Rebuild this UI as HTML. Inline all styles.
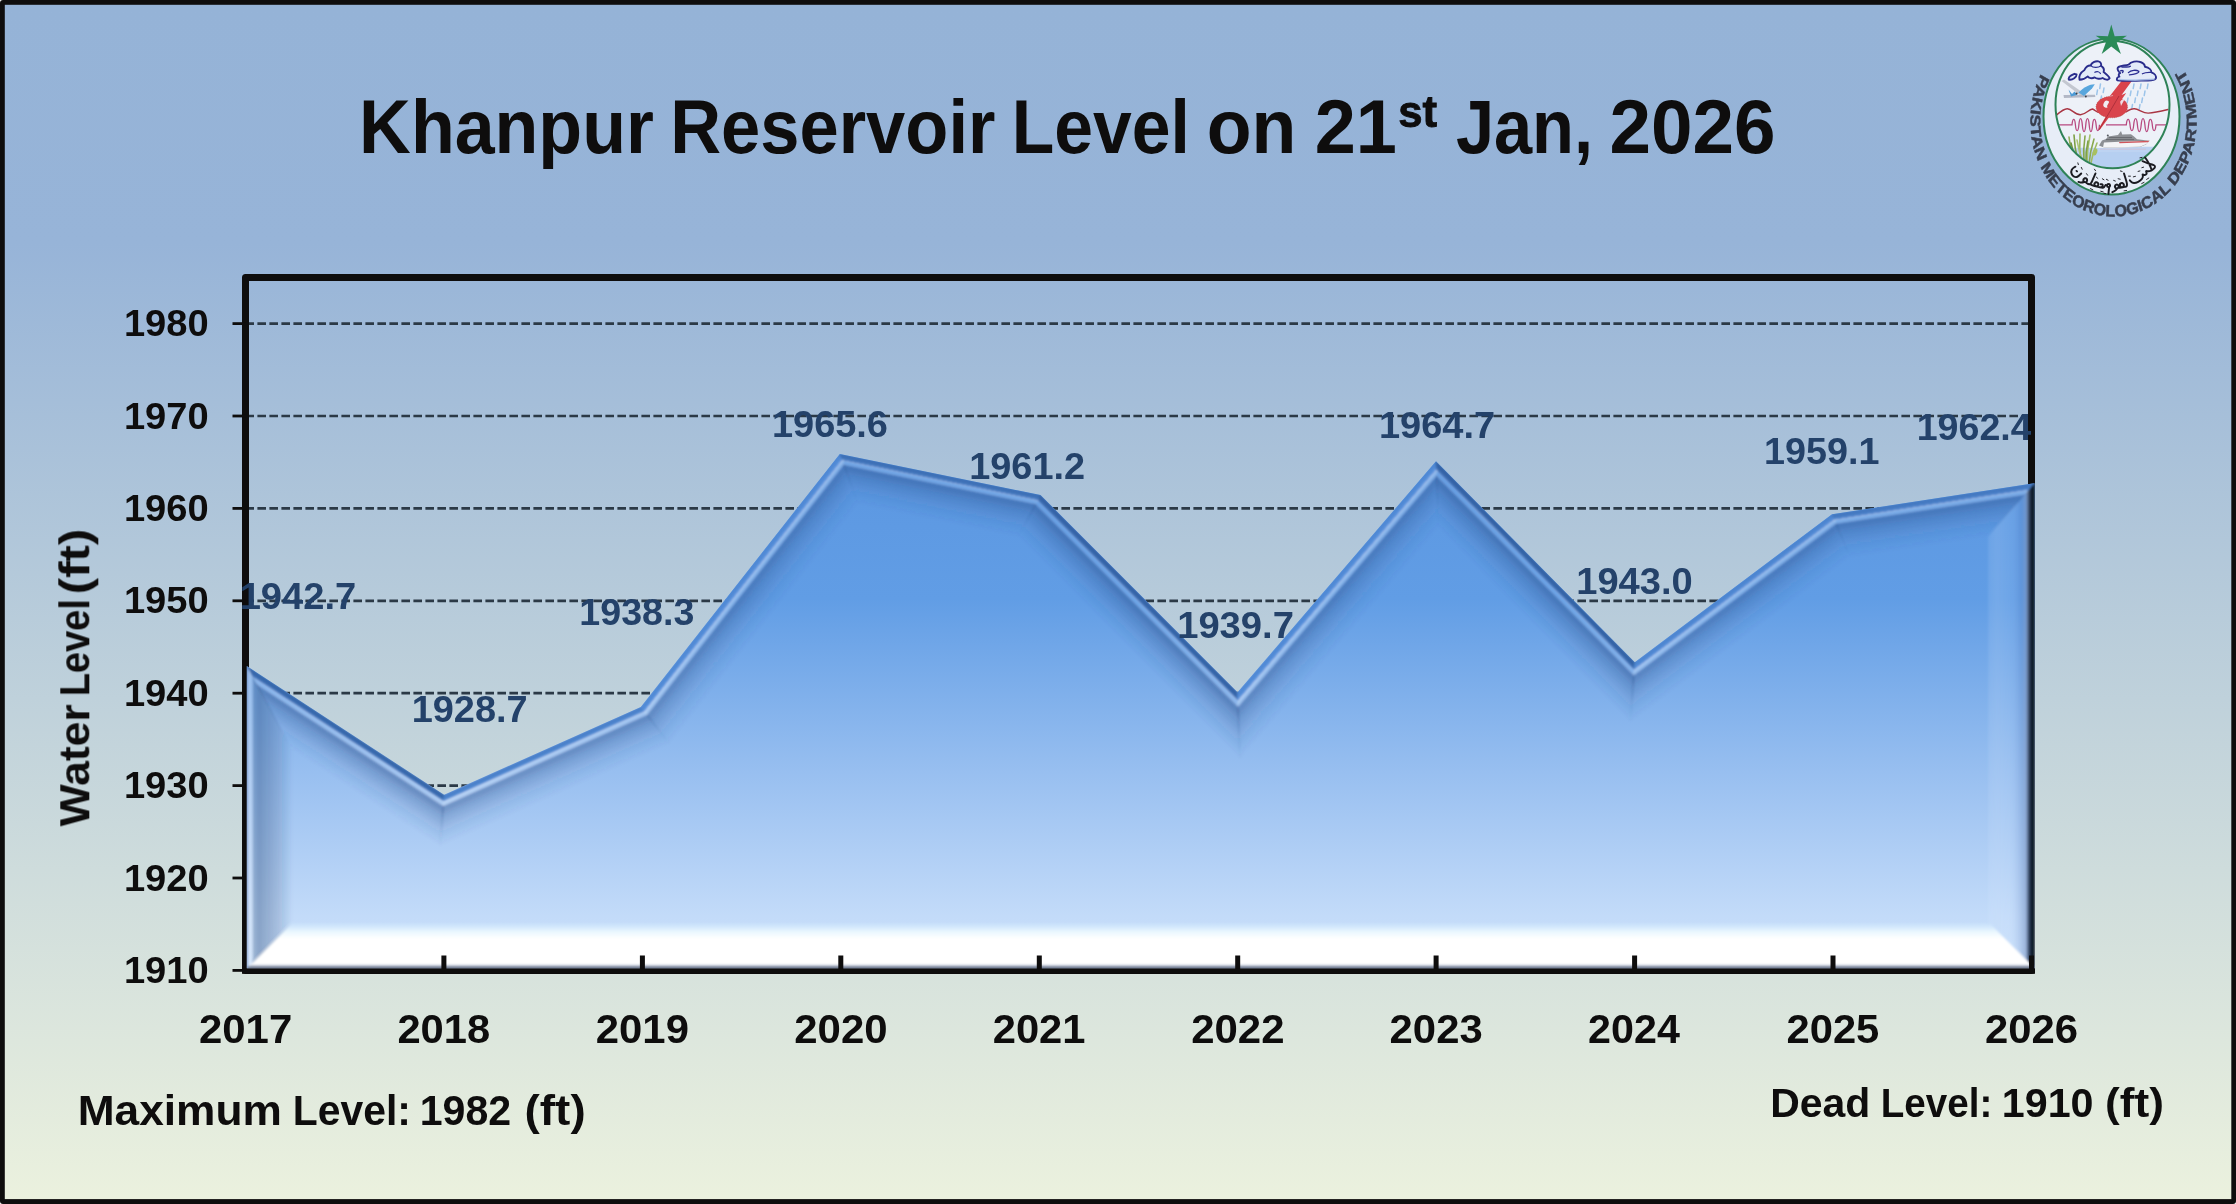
<!DOCTYPE html>
<html><head><meta charset="utf-8"><title>Khanpur Reservoir Level</title>
<style>html,body{margin:0;padding:0;background:#ffffff;width:2236px;height:1204px;overflow:hidden}svg{display:block}text{font-family:"Liberation Sans",sans-serif;font-weight:bold}</style>
</head><body>
<svg width="2236" height="1204" viewBox="0 0 2236 1204">
<defs>
<linearGradient id="bg" x1="0" y1="0" x2="0" y2="1"><stop offset="0" stop-color="#95b3d7"/><stop offset="0.2" stop-color="#97b4d8"/><stop offset="1" stop-color="#ebf1de"/></linearGradient>
<linearGradient id="af" gradientUnits="userSpaceOnUse" x1="0" y1="455" x2="0" y2="968"><stop offset="0" stop-color="#5b97e1"/><stop offset="0.28" stop-color="#619de5"/><stop offset="0.62" stop-color="#98bff0"/><stop offset="0.9" stop-color="#c3dbf9"/><stop offset="1" stop-color="#cbe1fb"/></linearGradient>
<clipPath id="ac"><polygon points="246.80,666.12 444.16,794.77 640.80,706.88 839.81,453.90 1040.50,495.01 1237.56,692.30 1436.01,461.29 1634.82,662.17 1832.02,514.34 2034.60,483.21 2034.60,968.60 246.80,968.60"/></clipPath>
<linearGradient id="f0" gradientUnits="userSpaceOnUse" x1="345.48" y1="730.44" x2="320.36" y2="768.98"><stop offset="0.0000" stop-color="#2f5ea0" stop-opacity="1.0"/><stop offset="0.1174" stop-color="#4174ba" stop-opacity="1.0"/><stop offset="0.1304" stop-color="#ffffff" stop-opacity="0.06792452619374156"/><stop offset="0.1565" stop-color="#ffffff" stop-opacity="0.12349913853407557"/><stop offset="0.1913" stop-color="#ffffff" stop-opacity="0.04322469848692645"/><stop offset="0.2174" stop-color="#274a86" stop-opacity="0.33888293364364563"/><stop offset="0.2717" stop-color="#274a86" stop-opacity="0.45184391152486086"/><stop offset="0.4130" stop-color="#274a86" stop-opacity="0.28014322514541373"/><stop offset="0.6739" stop-color="#274a86" stop-opacity="0.1084425387659666"/><stop offset="1.0000" stop-color="#274a86" stop-opacity="0"/></linearGradient>
<linearGradient id="f1" gradientUnits="userSpaceOnUse" x1="542.48" y1="750.83" x2="561.25" y2="792.82"><stop offset="0.0000" stop-color="#4378c3" stop-opacity="1.0"/><stop offset="0.1174" stop-color="#538cd4" stop-opacity="1.0"/><stop offset="0.1304" stop-color="#ffffff" stop-opacity="0.1798826591361526"/><stop offset="0.1565" stop-color="#ffffff" stop-opacity="0.32705938024755016"/><stop offset="0.1913" stop-color="#ffffff" stop-opacity="0.11447078308664255"/><stop offset="0.2174" stop-color="#274a86" stop-opacity="0.31025727465268826"/><stop offset="0.2717" stop-color="#274a86" stop-opacity="0.4136763662035844"/><stop offset="0.4130" stop-color="#274a86" stop-opacity="0.25647934704622233"/><stop offset="0.6739" stop-color="#274a86" stop-opacity="0.09928232788886025"/><stop offset="1.0000" stop-color="#274a86" stop-opacity="0"/></linearGradient>
<linearGradient id="f2" gradientUnits="userSpaceOnUse" x1="740.30" y1="580.39" x2="776.46" y2="608.83"><stop offset="0.0000" stop-color="#4a82cf" stop-opacity="1.0"/><stop offset="0.1174" stop-color="#5a94de" stop-opacity="1.0"/><stop offset="0.1304" stop-color="#ffffff" stop-opacity="0.22000000000000003"/><stop offset="0.1565" stop-color="#ffffff" stop-opacity="0.4"/><stop offset="0.1913" stop-color="#ffffff" stop-opacity="0.13999999999999999"/><stop offset="0.2174" stop-color="#274a86" stop-opacity="0.30000000000000004"/><stop offset="0.2717" stop-color="#274a86" stop-opacity="0.4"/><stop offset="0.4130" stop-color="#274a86" stop-opacity="0.248"/><stop offset="0.6739" stop-color="#274a86" stop-opacity="0.096"/><stop offset="1.0000" stop-color="#274a86" stop-opacity="0"/></linearGradient>
<linearGradient id="f3" gradientUnits="userSpaceOnUse" x1="940.15" y1="474.46" x2="930.92" y2="519.52"><stop offset="0.0000" stop-color="#3667ad" stop-opacity="1.0"/><stop offset="0.1174" stop-color="#487dc3" stop-opacity="1.0"/><stop offset="0.1304" stop-color="#ffffff" stop-opacity="0.108450147820165"/><stop offset="0.1565" stop-color="#ffffff" stop-opacity="0.19718208694575454"/><stop offset="0.1913" stop-color="#ffffff" stop-opacity="0.06901373043101408"/><stop offset="0.2174" stop-color="#274a86" stop-opacity="0.3285212690232533"/><stop offset="0.2717" stop-color="#274a86" stop-opacity="0.43802835869767104"/><stop offset="0.4130" stop-color="#274a86" stop-opacity="0.271577582392556"/><stop offset="0.6739" stop-color="#274a86" stop-opacity="0.10512680608744104"/><stop offset="1.0000" stop-color="#274a86" stop-opacity="0"/></linearGradient>
<linearGradient id="f4" gradientUnits="userSpaceOnUse" x1="1139.03" y1="593.65" x2="1106.48" y2="626.16"><stop offset="0.0000" stop-color="#2c599b" stop-opacity="1.0"/><stop offset="0.1174" stop-color="#3e70b5" stop-opacity="1.0"/><stop offset="0.1304" stop-color="#ffffff" stop-opacity="0.04898685187522218"/><stop offset="0.1565" stop-color="#ffffff" stop-opacity="0.08906700340949486"/><stop offset="0.1913" stop-color="#ffffff" stop-opacity="0.0311734511933232"/><stop offset="0.2174" stop-color="#274a86" stop-opacity="0.3437249526455398"/><stop offset="0.2717" stop-color="#274a86" stop-opacity="0.45829993686071974"/><stop offset="0.4130" stop-color="#274a86" stop-opacity="0.28414596085364624"/><stop offset="0.6739" stop-color="#274a86" stop-opacity="0.10999198484657273"/><stop offset="1.0000" stop-color="#274a86" stop-opacity="0"/></linearGradient>
<linearGradient id="f5" gradientUnits="userSpaceOnUse" x1="1336.79" y1="576.79" x2="1371.68" y2="606.77"><stop offset="0.0000" stop-color="#4a82cf" stop-opacity="1.0"/><stop offset="0.1174" stop-color="#5a94de" stop-opacity="1.0"/><stop offset="0.1304" stop-color="#ffffff" stop-opacity="0.22000000000000003"/><stop offset="0.1565" stop-color="#ffffff" stop-opacity="0.4"/><stop offset="0.1913" stop-color="#ffffff" stop-opacity="0.13999999999999999"/><stop offset="0.2174" stop-color="#274a86" stop-opacity="0.30000000000000004"/><stop offset="0.2717" stop-color="#274a86" stop-opacity="0.4"/><stop offset="0.4130" stop-color="#274a86" stop-opacity="0.248"/><stop offset="0.6739" stop-color="#274a86" stop-opacity="0.096"/><stop offset="1.0000" stop-color="#274a86" stop-opacity="0"/></linearGradient>
<linearGradient id="f6" gradientUnits="userSpaceOnUse" x1="1535.42" y1="561.73" x2="1502.72" y2="594.09"><stop offset="0.0000" stop-color="#2c599a" stop-opacity="1.0"/><stop offset="0.1174" stop-color="#3e70b5" stop-opacity="1.0"/><stop offset="0.1304" stop-color="#ffffff" stop-opacity="0.048603853273017736"/><stop offset="0.1565" stop-color="#ffffff" stop-opacity="0.0883706423145777"/><stop offset="0.1913" stop-color="#ffffff" stop-opacity="0.030929724810102192"/><stop offset="0.2174" stop-color="#274a86" stop-opacity="0.34382287842451253"/><stop offset="0.2717" stop-color="#274a86" stop-opacity="0.4584305045660167"/><stop offset="0.4130" stop-color="#274a86" stop-opacity="0.2842269128309303"/><stop offset="0.6739" stop-color="#274a86" stop-opacity="0.110023321095844"/><stop offset="1.0000" stop-color="#274a86" stop-opacity="0"/></linearGradient>
<linearGradient id="f7" gradientUnits="userSpaceOnUse" x1="1733.42" y1="588.26" x2="1761.01" y2="625.06"><stop offset="0.0000" stop-color="#477eca" stop-opacity="1.0"/><stop offset="0.1174" stop-color="#5790da" stop-opacity="1.0"/><stop offset="0.1304" stop-color="#ffffff" stop-opacity="0.20238001472694467"/><stop offset="0.1565" stop-color="#ffffff" stop-opacity="0.36796366313989937"/><stop offset="0.1913" stop-color="#ffffff" stop-opacity="0.12878728209896478"/><stop offset="0.2174" stop-color="#274a86" stop-opacity="0.3045051098709517"/><stop offset="0.2717" stop-color="#274a86" stop-opacity="0.4060068131612689"/><stop offset="0.4130" stop-color="#274a86" stop-opacity="0.25172422415998674"/><stop offset="0.6739" stop-color="#274a86" stop-opacity="0.09744163515870453"/><stop offset="1.0000" stop-color="#274a86" stop-opacity="0"/></linearGradient>
<linearGradient id="f8" gradientUnits="userSpaceOnUse" x1="1933.31" y1="498.78" x2="1940.30" y2="544.24"><stop offset="0.0000" stop-color="#3e71b9" stop-opacity="1.0"/><stop offset="0.1174" stop-color="#4e85cd" stop-opacity="1.0"/><stop offset="0.1304" stop-color="#ffffff" stop-opacity="0.14982012068115358"/><stop offset="0.1565" stop-color="#ffffff" stop-opacity="0.2724002194202792"/><stop offset="0.1913" stop-color="#ffffff" stop-opacity="0.09534007679709772"/><stop offset="0.2174" stop-color="#274a86" stop-opacity="0.31794371914402325"/><stop offset="0.2717" stop-color="#274a86" stop-opacity="0.4239249588586977"/><stop offset="0.4130" stop-color="#274a86" stop-opacity="0.2628334744923926"/><stop offset="0.6739" stop-color="#274a86" stop-opacity="0.10174199012608744"/><stop offset="1.0000" stop-color="#274a86" stop-opacity="0"/></linearGradient>
<linearGradient id="f9" gradientUnits="userSpaceOnUse" x1="2034.60" y1="725.91" x2="1988.60" y2="725.91"><stop offset="0.0000" stop-color="#0b0d12" stop-opacity="1.0"/><stop offset="0.0522" stop-color="#111a29" stop-opacity="1.0"/><stop offset="0.1087" stop-color="#23344e" stop-opacity="1.0"/><stop offset="0.1522" stop-color="#5d7194" stop-opacity="0.95"/><stop offset="0.1957" stop-color="#7f98c4" stop-opacity="0.55"/><stop offset="0.3043" stop-color="#5c7db8" stop-opacity="0.2"/><stop offset="0.5217" stop-color="#dcebff" stop-opacity="0.1"/><stop offset="0.8261" stop-color="#dcebff" stop-opacity="0.16"/><stop offset="1.0000" stop-color="#dcebff" stop-opacity="0.1"/></linearGradient>
<linearGradient id="f10" gradientUnits="userSpaceOnUse" x1="1140.70" y1="968.60" x2="1140.70" y2="922.60"><stop offset="0.0000" stop-color="#1c2332" stop-opacity="1.0"/><stop offset="0.0261" stop-color="#56627a" stop-opacity="1.0"/><stop offset="0.0609" stop-color="#b4bfd3" stop-opacity="1.0"/><stop offset="0.0957" stop-color="#ffffff" stop-opacity="1.0"/><stop offset="0.6522" stop-color="#ffffff" stop-opacity="1.0"/><stop offset="0.8043" stop-color="#eefaff" stop-opacity="0.9"/><stop offset="0.9348" stop-color="#dcf1ff" stop-opacity="0.45"/><stop offset="1.0000" stop-color="#dcf1ff" stop-opacity="0.0"/></linearGradient>
<linearGradient id="f11" gradientUnits="userSpaceOnUse" x1="246.80" y1="817.36" x2="292.80" y2="817.36"><stop offset="0.0000" stop-color="#4f75ad" stop-opacity="1.0"/><stop offset="0.0196" stop-color="#6f98d4" stop-opacity="1.0"/><stop offset="0.0326" stop-color="#ffffff" stop-opacity="0.3"/><stop offset="0.0978" stop-color="#ffffff" stop-opacity="0.22"/><stop offset="0.1413" stop-color="#23406e" stop-opacity="0.26"/><stop offset="0.2609" stop-color="#23406e" stop-opacity="0.36"/><stop offset="0.6522" stop-color="#23406e" stop-opacity="0.2"/><stop offset="1.0000" stop-color="#23406e" stop-opacity="0"/></linearGradient>
<filter id="soft" filterUnits="userSpaceOnUse" x="200" y="400" width="1900" height="620"><feGaussianBlur stdDeviation="0.8"/></filter>
</defs>
<rect x="0" y="0" width="2236" height="1204" rx="3" ry="3" fill="#0e0d0d"/>
<rect x="4.8" y="4.8" width="2226.5" height="1194.3" fill="url(#bg)"/>
<line x1="249" y1="878.0" x2="2028" y2="878.0" stroke="#2b3946" stroke-width="2.7" stroke-dasharray="8.6 3.4" stroke-dashoffset="3.6"/>
<line x1="249" y1="785.6" x2="2028" y2="785.6" stroke="#2b3946" stroke-width="2.7" stroke-dasharray="8.6 3.4" stroke-dashoffset="3.6"/>
<line x1="249" y1="693.2" x2="2028" y2="693.2" stroke="#2b3946" stroke-width="2.7" stroke-dasharray="8.6 3.4" stroke-dashoffset="3.6"/>
<line x1="249" y1="600.8" x2="2028" y2="600.8" stroke="#2b3946" stroke-width="2.7" stroke-dasharray="8.6 3.4" stroke-dashoffset="3.6"/>
<line x1="249" y1="508.4" x2="2028" y2="508.4" stroke="#2b3946" stroke-width="2.7" stroke-dasharray="8.6 3.4" stroke-dashoffset="3.6"/>
<line x1="249" y1="416.0" x2="2028" y2="416.0" stroke="#2b3946" stroke-width="2.7" stroke-dasharray="8.6 3.4" stroke-dashoffset="3.6"/>
<line x1="249" y1="323.6" x2="2028" y2="323.6" stroke="#2b3946" stroke-width="2.7" stroke-dasharray="8.6 3.4" stroke-dashoffset="3.6"/>
<rect x="245.5" y="277.5" width="1786" height="692.9" fill="none" stroke="#0e0d0d" stroke-width="7" stroke-linejoin="round"/>
<line x1="232.5" y1="970.4" x2="246" y2="970.4" stroke="#0e0d0d" stroke-width="2.8"/>
<line x1="232.5" y1="878.0" x2="246" y2="878.0" stroke="#0e0d0d" stroke-width="2.8"/>
<line x1="232.5" y1="785.6" x2="246" y2="785.6" stroke="#0e0d0d" stroke-width="2.8"/>
<line x1="232.5" y1="693.2" x2="246" y2="693.2" stroke="#0e0d0d" stroke-width="2.8"/>
<line x1="232.5" y1="600.8" x2="246" y2="600.8" stroke="#0e0d0d" stroke-width="2.8"/>
<line x1="232.5" y1="508.4" x2="246" y2="508.4" stroke="#0e0d0d" stroke-width="2.8"/>
<line x1="232.5" y1="416.0" x2="246" y2="416.0" stroke="#0e0d0d" stroke-width="2.8"/>
<line x1="232.5" y1="323.6" x2="246" y2="323.6" stroke="#0e0d0d" stroke-width="2.8"/>
<polygon points="246.80,666.12 444.16,794.77 640.80,706.88 839.81,453.90 1040.50,495.01 1237.56,692.30 1436.01,461.29 1634.82,662.17 1832.02,514.34 2034.60,483.21 2034.60,968.60 246.80,968.60" fill="url(#af)"/>
<g clip-path="url(#ac)"><g filter="url(#soft)">
<polygon points="246.80,666.12 444.16,794.77 440.05,847.00 292.80,751.01" fill="url(#f0)" stroke="url(#f0)" stroke-width="0.6"/>
<polygon points="444.16,794.77 640.80,706.88 669.93,744.24 440.05,847.00" fill="url(#f1)" stroke="url(#f1)" stroke-width="0.6"/>
<polygon points="640.80,706.88 839.81,453.90 858.40,504.66 669.93,744.24" fill="url(#f2)" stroke="url(#f2)" stroke-width="0.6"/>
<polygon points="839.81,453.90 1040.50,495.01 1017.72,537.30 858.40,504.66" fill="url(#f3)" stroke="url(#f3)" stroke-width="0.6"/>
<polygon points="1040.50,495.01 1237.56,692.30 1240.10,759.93 1017.72,537.30" fill="url(#f4)" stroke="url(#f4)" stroke-width="0.6"/>
<polygon points="1237.56,692.30 1436.01,461.29 1438.40,529.10 1240.10,759.93" fill="url(#f5)" stroke="url(#f5)" stroke-width="0.6"/>
<polygon points="1436.01,461.29 1634.82,662.17 1630.33,723.03 1438.40,529.10" fill="url(#f6)" stroke="url(#f6)" stroke-width="0.6"/>
<polygon points="1634.82,662.17 1832.02,514.34 1850.40,558.06 1630.33,723.03" fill="url(#f7)" stroke="url(#f7)" stroke-width="0.6"/>
<polygon points="1832.02,514.34 2034.60,483.21 1988.60,536.82 1850.40,558.06" fill="url(#f8)" stroke="url(#f8)" stroke-width="0.6"/>
<polygon points="2034.60,483.21 2034.60,968.60 1988.60,922.60 1988.60,536.82" fill="url(#f9)" stroke="url(#f9)" stroke-width="0.6"/>
<polygon points="2034.60,968.60 246.80,968.60 292.80,922.60 1988.60,922.60" fill="url(#f10)" stroke="url(#f10)" stroke-width="0.6"/>
<polygon points="246.80,968.60 246.80,666.12 292.80,751.01 292.80,922.60" fill="url(#f11)" stroke="url(#f11)" stroke-width="0.6"/>
</g></g>
<rect x="441.4" y="955.5" width="5" height="14" fill="#0e0d0d"/>
<rect x="639.9" y="955.5" width="5" height="14" fill="#0e0d0d"/>
<rect x="838.3" y="955.5" width="5" height="14" fill="#0e0d0d"/>
<rect x="1036.8" y="955.5" width="5" height="14" fill="#0e0d0d"/>
<rect x="1235.2" y="955.5" width="5" height="14" fill="#0e0d0d"/>
<rect x="1433.6" y="955.5" width="5" height="14" fill="#0e0d0d"/>
<rect x="1632.1" y="955.5" width="5" height="14" fill="#0e0d0d"/>
<rect x="1830.5" y="955.5" width="5" height="14" fill="#0e0d0d"/>
<rect x="2029.0" y="955.5" width="5" height="14" fill="#0e0d0d"/>
<rect x="242" y="968.6" width="1793" height="5.2" fill="#0e0d0d"/>
<g opacity="0.999">
<text x="359.11" y="153.3" font-size="76.5" fill="#0e0d0d" textLength="294.74" lengthAdjust="spacingAndGlyphs">Khanpur</text>
<text x="670.19" y="153.3" font-size="76.5" fill="#0e0d0d" textLength="325.22" lengthAdjust="spacingAndGlyphs">Reservoir</text>
<text x="1011.85" y="153.3" font-size="76.5" fill="#0e0d0d" textLength="178.04" lengthAdjust="spacingAndGlyphs">Level</text>
<text x="1206.72" y="153.3" font-size="76.5" fill="#0e0d0d" textLength="89.59" lengthAdjust="spacingAndGlyphs">on</text>
<text x="1314.64" y="153.3" font-size="76.5" fill="#0e0d0d" textLength="82.18" lengthAdjust="spacingAndGlyphs">21</text>
<text x="1398.28" y="127.0" font-size="44.5" fill="#0e0d0d" stroke="#0e0d0d" stroke-width="0.9" textLength="38.88" lengthAdjust="spacingAndGlyphs">st</text>
<text x="1455.88" y="153.3" font-size="76.5" fill="#0e0d0d" textLength="137.17" lengthAdjust="spacingAndGlyphs">Jan,</text>
<text x="1609.62" y="153.3" font-size="76.5" fill="#0e0d0d" textLength="166.00" lengthAdjust="spacingAndGlyphs">2026</text>
<text x="123.93" y="982.9" font-size="36.2" fill="#0e0d0d" textLength="84.78" lengthAdjust="spacingAndGlyphs">1910</text>
<text x="123.93" y="890.5" font-size="36.2" fill="#0e0d0d" textLength="84.78" lengthAdjust="spacingAndGlyphs">1920</text>
<text x="123.93" y="798.1" font-size="36.2" fill="#0e0d0d" textLength="84.78" lengthAdjust="spacingAndGlyphs">1930</text>
<text x="123.93" y="705.7" font-size="36.2" fill="#0e0d0d" textLength="84.78" lengthAdjust="spacingAndGlyphs">1940</text>
<text x="123.93" y="613.3" font-size="36.2" fill="#0e0d0d" textLength="84.78" lengthAdjust="spacingAndGlyphs">1950</text>
<text x="123.93" y="520.9" font-size="36.2" fill="#0e0d0d" textLength="84.78" lengthAdjust="spacingAndGlyphs">1960</text>
<text x="123.93" y="428.5" font-size="36.2" fill="#0e0d0d" textLength="84.78" lengthAdjust="spacingAndGlyphs">1970</text>
<text x="123.93" y="336.1" font-size="36.2" fill="#0e0d0d" textLength="84.78" lengthAdjust="spacingAndGlyphs">1980</text>
<text x="198.96" y="1043.0" font-size="40.8" fill="#0e0d0d" textLength="93.35" lengthAdjust="spacingAndGlyphs">2017</text>
<text x="397.41" y="1043.0" font-size="40.8" fill="#0e0d0d" textLength="92.82" lengthAdjust="spacingAndGlyphs">2018</text>
<text x="595.84" y="1043.0" font-size="40.8" fill="#0e0d0d" textLength="93.08" lengthAdjust="spacingAndGlyphs">2019</text>
<text x="794.28" y="1043.0" font-size="40.8" fill="#0e0d0d" textLength="93.35" lengthAdjust="spacingAndGlyphs">2020</text>
<text x="992.73" y="1043.0" font-size="40.8" fill="#0e0d0d" textLength="92.82" lengthAdjust="spacingAndGlyphs">2021</text>
<text x="1191.16" y="1043.0" font-size="40.8" fill="#0e0d0d" textLength="93.35" lengthAdjust="spacingAndGlyphs">2022</text>
<text x="1389.60" y="1043.0" font-size="40.8" fill="#0e0d0d" textLength="93.08" lengthAdjust="spacingAndGlyphs">2023</text>
<text x="1588.06" y="1043.0" font-size="40.8" fill="#0e0d0d" textLength="91.78" lengthAdjust="spacingAndGlyphs">2024</text>
<text x="1786.49" y="1043.0" font-size="40.8" fill="#0e0d0d" textLength="92.82" lengthAdjust="spacingAndGlyphs">2025</text>
<text x="1984.92" y="1043.0" font-size="40.8" fill="#0e0d0d" textLength="93.08" lengthAdjust="spacingAndGlyphs">2026</text>
<text x="77.65" y="1124.6" font-size="42.7" fill="#0e0d0d" textLength="204.25" lengthAdjust="spacingAndGlyphs">Maximum</text>
<text x="292.77" y="1124.6" font-size="42.7" fill="#0e0d0d" textLength="118.11" lengthAdjust="spacingAndGlyphs">Level:</text>
<text x="419.75" y="1124.6" font-size="42.7" fill="#0e0d0d" textLength="91.42" lengthAdjust="spacingAndGlyphs">1982</text>
<text x="524.58" y="1124.6" font-size="42.7" fill="#0e0d0d" textLength="61.10" lengthAdjust="spacingAndGlyphs">(ft)</text>
<text x="1770.15" y="1116.6" font-size="41" fill="#0e0d0d" textLength="100.10" lengthAdjust="spacingAndGlyphs">Dead</text>
<text x="1880.81" y="1116.6" font-size="41" fill="#0e0d0d" textLength="111.44" lengthAdjust="spacingAndGlyphs">Level:</text>
<text x="2001.79" y="1116.6" font-size="41" fill="#0e0d0d" textLength="91.74" lengthAdjust="spacingAndGlyphs">1910</text>
<text x="2105.04" y="1116.6" font-size="41" fill="#0e0d0d" textLength="58.94" lengthAdjust="spacingAndGlyphs">(ft)</text>
<g transform="translate(89.3,826.4) rotate(-90)">
<text x="0.00" y="0.0" font-size="43" fill="#0e0d0d" textLength="122.15" lengthAdjust="spacingAndGlyphs">Water</text>
<text x="130.15" y="0.0" font-size="43" fill="#0e0d0d" textLength="97.06" lengthAdjust="spacingAndGlyphs">Level</text>
<text x="231.91" y="0.0" font-size="43" fill="#0e0d0d" textLength="65.91" lengthAdjust="spacingAndGlyphs">(ft)</text>
</g>
<clipPath id="lc"><rect x="0" y="0" width="2031" height="1204"/></clipPath>
<g clip-path="url(#lc)">
<text x="239.66" y="609.0" font-size="36.6" fill="#24426a" textLength="116.59" lengthAdjust="spacingAndGlyphs">1942.7</text>
<text x="411.67" y="722.3" font-size="36.6" fill="#24426a" textLength="115.97" lengthAdjust="spacingAndGlyphs">1928.7</text>
<text x="579.39" y="625.0" font-size="36.6" fill="#24426a" textLength="114.98" lengthAdjust="spacingAndGlyphs">1938.3</text>
<text x="771.97" y="437.3" font-size="36.6" fill="#24426a" textLength="116.01" lengthAdjust="spacingAndGlyphs">1965.6</text>
<text x="969.27" y="478.6" font-size="36.6" fill="#24426a" textLength="115.80" lengthAdjust="spacingAndGlyphs">1961.2</text>
<text x="1177.15" y="637.6" font-size="36.6" fill="#24426a" textLength="116.80" lengthAdjust="spacingAndGlyphs">1939.7</text>
<text x="1378.96" y="438.2" font-size="36.6" fill="#24426a" textLength="116.17" lengthAdjust="spacingAndGlyphs">1964.7</text>
<text x="1576.26" y="593.8" font-size="36.6" fill="#24426a" textLength="116.53" lengthAdjust="spacingAndGlyphs">1943.0</text>
<text x="1764.08" y="464.2" font-size="36.6" fill="#24426a" textLength="115.37" lengthAdjust="spacingAndGlyphs">1959.1</text>
<text x="1916.69" y="440.1" font-size="36.6" fill="#24426a" textLength="114.99" lengthAdjust="spacingAndGlyphs">1962.4</text>
</g>
</g>
<g id="logo">
<ellipse cx="2111.5" cy="116.6" rx="68" ry="78" fill="#e7edf7" stroke="#2e8257" stroke-width="2"/>
<clipPath id="lgi"><ellipse cx="2112.5" cy="104.6" rx="56.4" ry="63"/></clipPath>
<ellipse cx="2112.5" cy="104.6" rx="57" ry="63.6" fill="#edf1f8" stroke="none"/>
<g clip-path="url(#lgi)">
<path d="M2050 150 C2075 146 2100 149 2120 148 S2160 146 2175 148 V172 H2050Z" fill="#bdd3f2"/>
<path d="M2085 152 H2160 V170 H2085Z" fill="#b3cdf1" opacity="0.7"/>
<path d="M2074 160 Q2070.0 148.5 2069 137" stroke="#8fae58" stroke-width="1.6" fill="none" stroke-linecap="round"/>
<path d="M2078 161 Q2074.5 148.0 2074 135" stroke="#7d9f45" stroke-width="1.6" fill="none" stroke-linecap="round"/>
<path d="M2081 162 Q2079.0 148.0 2080 134" stroke="#9bb862" stroke-width="1.6" fill="none" stroke-linecap="round"/>
<path d="M2084 163 Q2083.0 149.5 2085 136" stroke="#86a64c" stroke-width="1.6" fill="none" stroke-linecap="round"/>
<path d="M2087 164 Q2087.0 149.5 2090 135" stroke="#a3bf6a" stroke-width="1.6" fill="none" stroke-linecap="round"/>
<path d="M2089 164 Q2090.0 151.5 2094 139" stroke="#8aa94f" stroke-width="1.6" fill="none" stroke-linecap="round"/>
<path d="M2091 163 Q2092.5 153.0 2097 143" stroke="#9fbb63" stroke-width="1.6" fill="none" stroke-linecap="round"/>
<path d="M2077 160 Q2072.5 151.5 2071 143" stroke="#6f9440" stroke-width="1.6" fill="none" stroke-linecap="round"/>
<path d="M2083 162 Q2078.5 151.0 2077 140" stroke="#a9c472" stroke-width="1.6" fill="none" stroke-linecap="round"/>
<path d="M2086 163 Q2085.5 152.0 2088 141" stroke="#7fa148" stroke-width="1.6" fill="none" stroke-linecap="round"/>
<ellipse cx="2095" cy="152" rx="2.2" ry="3.6" fill="#a8c060" transform="rotate(20 2095 152)"/>
<path d="M2099 145.5 L2102 140.5 L2106 139 L2108 136.5 L2118 135 L2121 131 L2122.2 134.6 L2131 134.2 L2134 136.5 L2137 139.3 L2149.5 140.8 L2146 144.5 L2140 147 L2104 147.5Z" fill="#8d9095"/>
<path d="M2104 142.5 L2120 141.8 L2149.5 140.8 L2146.5 144 L2140 146.8 L2103 147.4Z" fill="#f3f4f7"/>
<path d="M2119 141.9 L2149.5 140.8 L2148 142.3 L2119.5 143.2Z" fill="#d0565c"/>
<path d="M2106 139.6 H2134 M2109 137.6 H2132" stroke="#5d6066" stroke-width="0.8"/>
<circle cx="2107.8" cy="135.6" r="1" fill="#55585e"/>
<path d="M2100 149.3 H2146" stroke="#c8c6dc" stroke-width="1.6" opacity="0.8"/>
<path d="M2100.5 84 l-0.8 4.6" stroke="#9cc4ea" stroke-width="1.5" stroke-linecap="round"/>
<path d="M2097.5 90 l-0.8 4.6" stroke="#9cc4ea" stroke-width="1.5" stroke-linecap="round"/>
<path d="M2101.5 96 l-0.8 4.6" stroke="#9cc4ea" stroke-width="1.5" stroke-linecap="round"/>
<path d="M2104 88 l-0.8 4.6" stroke="#9cc4ea" stroke-width="1.5" stroke-linecap="round"/>
<path d="M2134 84 l-0.8 4.6" stroke="#9cc4ea" stroke-width="1.5" stroke-linecap="round"/>
<path d="M2141 84 l-0.8 4.6" stroke="#9cc4ea" stroke-width="1.5" stroke-linecap="round"/>
<path d="M2148 84 l-0.8 4.6" stroke="#9cc4ea" stroke-width="1.5" stroke-linecap="round"/>
<path d="M2131 91 l-0.8 4.6" stroke="#9cc4ea" stroke-width="1.5" stroke-linecap="round"/>
<path d="M2138 91 l-0.8 4.6" stroke="#9cc4ea" stroke-width="1.5" stroke-linecap="round"/>
<path d="M2145 91 l-0.8 4.6" stroke="#9cc4ea" stroke-width="1.5" stroke-linecap="round"/>
<path d="M2128 98 l-0.8 4.6" stroke="#9cc4ea" stroke-width="1.5" stroke-linecap="round"/>
<path d="M2135.5 98 l-0.8 4.6" stroke="#9cc4ea" stroke-width="1.5" stroke-linecap="round"/>
<path d="M2142.5 98 l-0.8 4.6" stroke="#9cc4ea" stroke-width="1.5" stroke-linecap="round"/>
<path d="M2132.5 104.5 l-0.8 4.6" stroke="#9cc4ea" stroke-width="1.5" stroke-linecap="round"/>
<path d="M2140 104.5 l-0.8 4.6" stroke="#9cc4ea" stroke-width="1.5" stroke-linecap="round"/>
<path d="M2056 115.5 C2060 112 2064 108.6 2067.3 108.8 C2072 109 2075 115 2080.5 114.8 C2086 114.6 2088.5 109.4 2092.5 109 C2096 110.5 2097 113 2100 112.5 M2126 112 C2129 110 2131.5 108.6 2134.4 108.8 C2139 109.2 2143 113.3 2148.3 113.1 C2154 112.9 2160 111.5 2168 109.5" stroke="#a93543" stroke-width="1.4" fill="none" stroke-linecap="round"/>
<path d="M2058 124.8 H2072  C2072.7 117.6 2074.8 117.6 2075.4 124.8 C2076.1 132.6 2078.2 132.6 2078.9 124.8 C2079.6 116.5 2081.6 116.5 2082.3 124.8 C2083.0 133.8 2085.1 133.8 2085.8 124.8 C2086.4 116.5 2088.5 116.5 2089.2 124.8 C2089.9 133.8 2091.9 133.8 2092.6 124.8 C2093.3 117.6 2095.4 117.6 2096.1 124.8 C2096.8 132.6 2098.8 132.6 2099.5 124.8 " stroke="#b84a80" stroke-width="1.3" fill="none"/>
<path d="M2106 124.8 H2126.3  C2127.0 117.6 2129.3 117.6 2130.0 124.8 C2130.8 132.6 2133.0 132.6 2133.7 124.8 C2134.5 116.5 2136.7 116.5 2137.4 124.8 C2138.2 133.8 2140.4 133.8 2141.2 124.8 C2141.9 116.5 2144.1 116.5 2144.9 124.8 C2145.6 133.8 2147.8 133.8 2148.6 124.8 C2149.3 117.6 2151.5 117.6 2152.3 124.8 C2153.0 132.6 2155.3 132.6 2156.0 124.8 H2166" stroke="#b84a80" stroke-width="1.3" fill="none"/>
<ellipse cx="2111.8" cy="107" rx="15.8" ry="10.8" fill="#d9444c"/>
<ellipse cx="2111.8" cy="107" rx="15.8" ry="10.8" fill="none" stroke="#b5504a" stroke-width="0.8" stroke-dasharray="1 1.2" opacity="0.8"/>
<ellipse cx="2106.6" cy="104.2" rx="3.1" ry="3.6" fill="#f1eef4" transform="rotate(25 2106.6 104.2)"/>
<path d="M2120 101 l5.5 -3.5 l-4.5 8.5z" fill="#f1eef4" opacity="0.9"/>
<path d="M2121.5 81 L2131.8 81 L2121.6 95 L2126.2 93 L2113 112 L2100 129.5 L2098.6 128.8 L2109 111 L2107 106 L2113 95 L2109.5 96.5 Z" fill="#d9444c"/>
<path d="M2119 96 L2099 130" stroke="#a92e3a" stroke-width="0.9"/>
<path d="M2061.5 81 L2064 79.6 L2086 94.8 L2083 97.4 Z" fill="#c3c7d0"/>
<path d="M2063.5 95 L2095 94.8 L2095.4 97 L2064 98Z" fill="#b3b8c6"/>
<path d="M2078.5 92.5 C2084 87 2090 84 2094.8 84.2 L2092 88.5 L2084 96 Z" fill="#58a6dd"/>
<path d="M2068.5 89.5 L2071 96.6 L2077.5 94.8 L2074.5 91.5 L2072 94 Z" fill="#4c9bd6"/>
<circle cx="2076.6" cy="93.4" r="1" fill="#3d4048"/><circle cx="2085.8" cy="96.4" r="1" fill="#3d4048"/>
<path d="M2068.8 79.6 C2068 77.6 2071 75.2 2074.4 73.8 L2076.6 74.4 C2076.6 77 2073 80.2 2068.8 79.6Z M2079.5 79.8 C2078.4 76.6 2080.4 72.4 2084.2 70.2 C2086.2 66.4 2089.2 65.4 2090.8 65.6 C2091.2 62.4 2095.5 61 2098.4 61.4 C2100.8 61.8 2101.6 64 2101 65.8 C2103.6 67.2 2104.4 69.6 2103.6 72 C2106.6 74.4 2109.4 76.4 2109.6 78.4 C2108.4 80.6 2105 79.6 2102.6 78 C2100.2 79.4 2096.2 78.8 2094.6 77.4 C2092 79 2088.6 78.2 2087.8 76.4 C2085.6 78.4 2081.8 79.8 2079.5 79.8Z" fill="#e2eaf8" stroke="#2a2d8c" stroke-width="1.9" stroke-linejoin="round"/>
<path d="M2090.8 65.6 C2093 67.8 2098 68.2 2101 65.8 M2094.4 72.6 C2096.6 71 2100 71.4 2100.6 74" stroke="#2c2f92" stroke-width="1.2" fill="none"/>
<path d="M2117.2 80.4 C2116.2 78.6 2117.4 77 2119.4 76.6 C2118.2 75.2 2118.6 73.8 2120.2 73.2 C2118.6 71.6 2117 69.4 2117.8 67.6 C2120 65.6 2125 65.8 2128.6 64.6 C2131 61.6 2136.4 60.6 2140.4 62 C2143 62.8 2144.8 64.8 2145 66.8 C2149.4 67.6 2151.6 70.2 2151.4 72.4 C2154.8 73.6 2156.6 76.2 2155.8 78.6 C2154.6 80.8 2150 80.6 2145.6 80.4 C2138 80.8 2124 81.2 2117.2 80.4Z" fill="#e2eaf8" stroke="#2a2d8c" stroke-width="1.9" stroke-linejoin="round"/>
<path d="M2122 67.2 C2126 66.6 2129 67.6 2130.4 66.2 M2120.4 70.8 C2123 70 2124 71 2122.4 72.6 M2128.4 72.6 C2131 69.8 2136.4 69.8 2138.8 71.2 C2139.4 73.2 2134 74.6 2129.4 74.8 M2142.4 73.8 C2145 72.4 2149 72.2 2151.4 72.4" stroke="#2c2f92" stroke-width="1.3" fill="none" stroke-linecap="round"/>
<path d="M2119 79.5 C2130 80.3 2146 80 2154.5 79.3" stroke="#a9bfe6" stroke-width="1.6" fill="none" opacity="0.8"/>
</g>
<ellipse cx="2112.5" cy="104.6" rx="57" ry="63.6" fill="none" stroke="#2e8257" stroke-width="2"/>
<polygon points="2111.30,24.40 2114.65,36.19 2126.90,35.73 2116.72,42.56 2120.94,54.07 2111.30,46.50 2101.66,54.07 2105.88,42.56 2095.70,35.73 2107.95,36.19" fill="#2a8a57"/>
<g fill="none" stroke="#1c1c22" stroke-linecap="round" stroke-linejoin="round">
<path d="M2145.12 157.55 Q2147.81 161.35 2149.06 163.72 Q2150.30 166.09 2150.94 167.97 L2151.57 169.85 M2142.56 161.20 Q2147.34 163.40 2149.80 164.01 Q2152.25 164.62 2153.71 165.21 Q2155.17 165.80 2155.03 166.97 Q2154.89 168.15 2153.19 169.25 L2151.50 170.36 M2151.50 170.36 Q2148.65 171.76 2147.11 171.14 Q2145.56 170.53 2146.34 172.11 Q2147.12 173.69 2145.92 174.55 Q2144.72 175.42 2143.45 174.64 Q2142.18 173.85 2142.78 175.41 Q2143.38 176.96 2141.90 178.83 Q2140.41 180.70 2138.16 181.88 Q2135.91 183.06 2133.99 182.99 Q2132.07 182.92 2130.96 181.61 L2129.84 180.29 M2124.00 173.45 Q2125.79 179.18 2126.52 181.84 Q2127.25 184.50 2126.91 185.71 Q2126.56 186.93 2125.52 186.82 L2124.48 186.71 M2119.73 185.55 Q2120.01 183.83 2120.69 183.35 Q2121.36 182.86 2122.13 183.01 Q2122.90 183.17 2123.46 183.86 Q2124.02 184.55 2123.87 185.44 Q2123.72 186.32 2123.06 186.83 Q2122.40 187.34 2121.52 187.18 Q2120.64 187.03 2120.19 186.29 Q2119.73 185.55 2119.87 184.69 L2120.01 183.83 M2124.48 186.71 Q2122.55 187.41 2121.09 187.60 L2119.63 187.80 M2114.83 186.71 Q2115.30 185.18 2115.91 184.80 Q2116.52 184.42 2117.27 184.63 Q2118.02 184.84 2118.43 185.52 Q2118.85 186.21 2118.66 186.99 Q2118.47 187.77 2117.76 188.18 Q2117.04 188.59 2116.32 188.36 Q2115.59 188.14 2115.21 187.43 Q2114.83 186.71 2115.07 185.95 L2115.30 185.18 M2117.04 188.59 Q2115.45 190.78 2113.88 191.47 L2112.32 192.17 M2106.97 185.47 Q2107.53 184.31 2108.12 184.09 Q2108.71 183.87 2109.22 184.13 Q2109.74 184.39 2109.96 185.00 Q2110.19 185.60 2109.94 186.20 Q2109.70 186.80 2109.14 187.03 Q2108.58 187.26 2107.98 186.98 Q2107.38 186.71 2107.18 186.09 Q2106.97 185.47 2107.25 184.89 L2107.53 184.31 M2109.20 187.18 Q2108.71 190.77 2108.59 192.37 L2108.47 193.96 M2105.59 184.95 Q2104.31 187.63 2103.03 187.70 Q2101.74 187.76 2099.83 187.31 L2097.91 186.86 M2100.66 184.20 Q2102.39 183.92 2102.68 184.77 Q2102.96 185.63 2102.19 186.52 L2101.42 187.40 M2094.41 183.66 Q2095.47 182.37 2096.24 182.27 Q2097.01 182.17 2097.61 182.67 Q2098.21 183.17 2098.31 184.00 Q2098.41 184.82 2097.92 185.50 Q2097.43 186.18 2096.61 186.29 Q2095.79 186.40 2095.15 185.87 Q2094.52 185.34 2094.46 184.50 Q2094.41 183.66 2094.94 183.02 L2095.47 182.37 M2097.91 186.86 Q2094.01 186.06 2092.41 185.38 L2090.81 184.69 M2095.50 173.43 Q2092.91 179.39 2091.83 181.76 Q2090.75 184.13 2089.50 184.25 Q2088.26 184.37 2087.26 183.57 L2086.26 182.76 M2083.49 179.19 Q2084.68 178.17 2085.48 178.27 Q2086.28 178.37 2086.73 178.96 Q2087.19 179.55 2087.13 180.35 Q2087.07 181.15 2086.45 181.67 Q2085.82 182.19 2085.04 182.12 Q2084.26 182.05 2083.72 181.39 Q2083.19 180.74 2083.34 179.97 Q2083.49 179.19 2084.09 178.68 L2084.68 178.17 M2084.26 182.05 Q2081.47 182.87 2079.96 182.40 L2078.45 181.93 M2081.22 173.52 Q2078.46 176.46 2076.89 176.97 Q2075.33 177.47 2073.81 176.48 Q2072.29 175.48 2071.57 173.60 Q2070.85 171.71 2071.69 170.01 Q2072.53 168.30 2073.97 167.48 L2075.42 166.66" stroke-width="1.95"/>
<path d="M2077.04 171.39 L2076.46 170.89" stroke-width="1.9"/>
<path d="M2141.99 157.38 L2139.96 157.83 M2143.64 167.13 L2141.86 167.66 M2139.93 170.92 L2138.09 171.41 M2135.49 176.32 L2133.33 176.85 M2130.41 176.19 L2128.56 176.16 M2122.11 171.45 L2120.35 170.94 M2120.19 179.22 L2118.14 178.72 M2115.33 181.04 L2113.64 180.39 M2108.10 180.23 L2106.37 179.30 M2103.96 179.81 L2102.31 178.72 M2097.86 178.46 L2096.35 177.14 M2095.53 170.74 L2094.45 169.17 M2087.61 175.22 L2086.52 173.66 M2082.18 169.25 L2081.31 167.40 M2078.37 164.65 L2077.84 162.87 M2148.81 178.03 L2146.61 179.40 M2144.02 182.39 L2141.71 183.54 M2126.65 190.46 L2124.05 190.85 M2103.24 191.93 L2100.74 191.24 M2092.81 189.77 L2090.43 188.62 M2105.83 193.61 L2104.05 193.24" stroke-width="0.95"/>
</g>
<g transform="translate(2113.5,121.0) scale(0.87,1)">
<path id="lgp" d="M-83.12 -47.03 A95.5 95.5 0 1 0 80.54 -51.31" fill="none"/>
<text font-size="16.4" fill="#373e4e" stroke="#373e4e" stroke-width="0.5" textLength="403.4" lengthAdjust="spacingAndGlyphs"><textPath href="#lgp" textLength="403.4" lengthAdjust="spacingAndGlyphs">PAKISTAN METEOROLOGICAL DEPARTMENT</textPath></text>
</g>
</g>
</svg></body></html>
